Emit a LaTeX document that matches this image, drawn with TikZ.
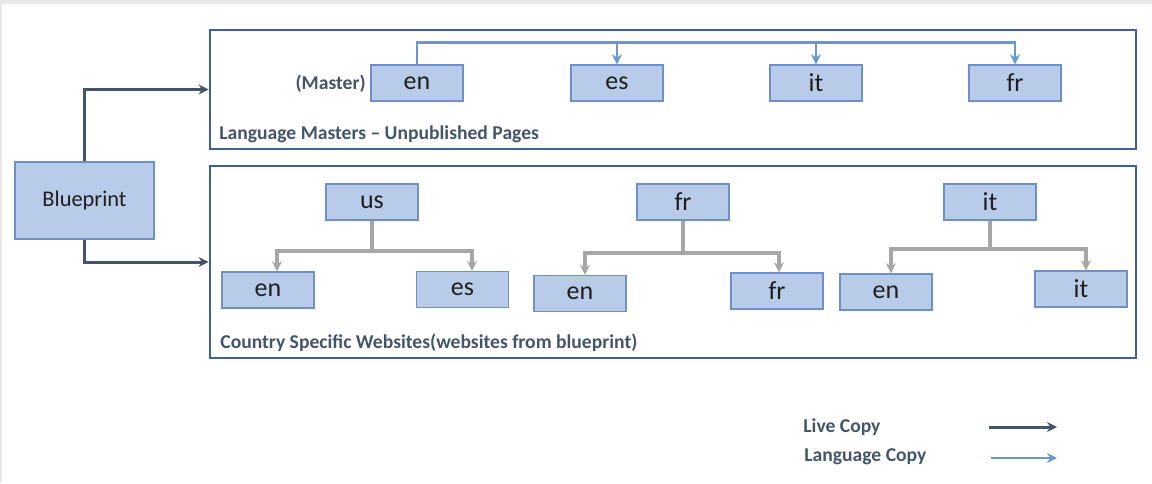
\documentclass[tikz,border=0pt]{standalone}
\usepackage{fontspec}
\setmainfont{Carlito}
\usetikzlibrary{arrows.meta}
\definecolor{boxfill}{HTML}{B8CBE9}
\definecolor{boxline}{HTML}{6F8FC7}
\definecolor{boxtext}{HTML}{1F1F1F}
\definecolor{framecol}{HTML}{41608F}
\definecolor{tagcol}{HTML}{44546A}
\definecolor{livecol}{HTML}{44546A}
\definecolor{langcol}{HTML}{6699D0}
\definecolor{linkgray}{HTML}{A6A6A6}
\definecolor{edgegray}{HTML}{E8E8E8}

\begin{document}
\begin{tikzpicture}[x=0.5pt,y=-0.5pt,
            langbox/.style={draw=boxline, fill=boxfill, line width=0.7pt, minimum width=46pt, minimum height=18pt, inner sep=0pt, text=boxtext, font=\fontsize{13}{15}\selectfont},
            frame/.style={draw=framecol, line width=1.4pt, minimum width=463pt, inner sep=0pt},
            tag/.style={text=tagcol, font=\bfseries\fontsize{9.8}{11}\selectfont, inner sep=0pt},
            livelink/.style={draw=livecol, line width=1.5pt, -{Stealth[length=5pt,width=5pt]}},
            langlink/.style={draw=langcol, line width=1.4pt, -{Stealth[length=5pt,width=5pt]}},
            sitelink/.style={draw=linkgray, line width=1.6pt, -{Stealth[length=5pt,width=5pt]}}]
            \useasboundingbox (0,0) rectangle (1152,483);
            \fill[edgegray] (0,0) rectangle (1152,4);
            \fill[edgegray] (0,0) rectangle (2,483);

            % frames
            \node[frame, minimum height=59.5pt] (masters) at (673,89.5) {};
            \node[frame, minimum height=96pt] (sites) at (673,262) {};
            \node[tag, anchor=west] (masters-tag) at (219,134) {Language Masters – Unpublished Pages};
            \node[tag, anchor=west] (sites-tag) at (220,343) {Country Specific Websites(websites from blueprint)};

            % blueprint
            \node[langbox, minimum width=69.5pt, minimum height=38.5pt, font=\fontsize{11.2}{13}\selectfont] (bp) at (84.5,200.5) {Blueprint};
            \draw[livelink] (bp.north) |- (masters.west);
            \draw[livelink] (bp.south) |- (sites.west);

            % language masters
            \node[langbox] (m-en) at (417,83) {en};
            \node[langbox] (m-es) at (617,83) {es};
            \node[langbox] (m-it) at (816,83) {it};
            \node[langbox] (m-fr) at (1015,83) {fr};
            \node[tag, anchor=east] (master-tag) at (366,84) {(Master)};
            \draw[langlink] (m-en.north) -- ++(0,-22) coordinate (lc) -| (m-fr.north);
            \draw[langlink] (lc -| m-es.north) -- (m-es.north);
            \draw[langlink] (lc -| m-it.north) -- (m-it.north);

            % country sites
            \node[langbox] (us) at (372,202) {us};
            \node[langbox] (us-en) at (268,290) {en};
            \node[langbox] (us-es) at (462.5,289.5) {es};
            \coordinate (us-j) at (372,251);
            \draw[sitelink, -] (us.south) -- (us-j);
            \draw[sitelink] (us-j) -| ([xshift=4.5pt]us-en.north);
            \draw[sitelink] (us-j) -| ([xshift=4.75pt]us-es.north);

            \node[langbox] (fr) at (683,202) {fr};
            \node[langbox] (fr-en) at (580,293.5) {en};
            \node[langbox] (fr-fr) at (777,291) {fr};
            \coordinate (fr-j) at (683,253);
            \draw[sitelink, -] (fr.south) -- (fr-j);
            \draw[sitelink] (fr-j) -| ([xshift=2.5pt]fr-en.north);
            \draw[sitelink] (fr-j) -| ([xshift=1pt]fr-fr.north);

            \node[langbox] (it) at (990,202) {it};
            \node[langbox] (it-en) at (886,292) {en};
            \node[langbox] (it-it) at (1081,289) {it};
            \coordinate (it-j) at (990,249);
            \draw[sitelink, -] (it.south) -- (it-j);
            \draw[sitelink] (it-j) -| ([xshift=2.5pt]it-en.north);
            \draw[sitelink] (it-j) -| ([xshift=2.5pt]it-it.north);

            % legend
            \node[tag, anchor=west] (live-tag) at (803,427) {Live Copy};
            \node[tag, anchor=west] (lang-tag) at (804,457) {Language Copy};
            \coordinate (live-a) at (989,427);
            \coordinate (live-b) at (1057,427);
            \coordinate (lang-a) at (991,458);
            \coordinate (lang-b) at (1057,458);
            \draw[livelink] (live-a) -- (live-b);
            \draw[langlink] (lang-a) -- (lang-b);
\end{tikzpicture}
\end{document}
